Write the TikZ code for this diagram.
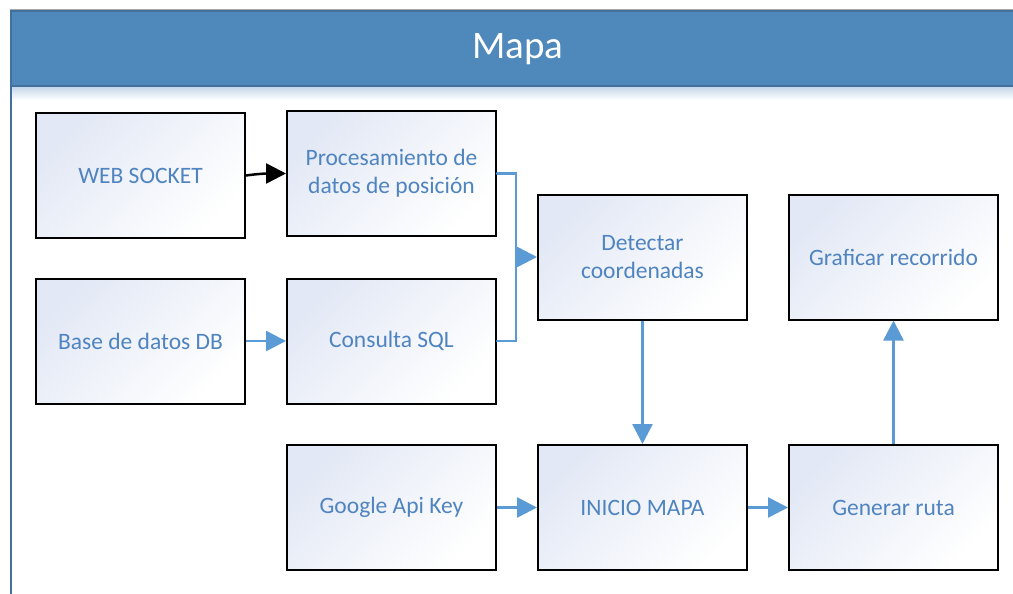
\documentclass[tikz,border=0pt]{standalone}
\usepackage{fontspec}
\setmainfont{Carlito}
\usepackage{tikz}
\usetikzlibrary{arrows.meta}

\definecolor{headblue}{RGB}{79,136,187}
\definecolor{headedge}{RGB}{65,113,156}
\definecolor{textblue}{RGB}{79,132,192}
\definecolor{lineblue}{RGB}{91,155,213}
\definecolor{boxtint}{RGB}{226,232,245}

\tikzset{
    stepbox/.style={draw=black, line width=2pt, top color=boxtint, bottom color=white,
        shading angle=45, minimum width=209pt, minimum height=125pt, align=center,
        text=textblue, font=\fontsize{23.5}{28}\selectfont},
    bluearrow/.style={draw=lineblue, line width=2.5pt, -{Triangle[length=20pt,width=20pt]}},
    blueline/.style={draw=lineblue, line width=2.5pt, line cap=round},
    blackarrow/.style={draw=black, line width=2.5pt, -{Triangle[length=20pt,width=20pt]}}
}

\begin{document}
\begin{tikzpicture}[x=1pt, y=-1pt]
        \useasboundingbox (0, 0) rectangle (1013, 594);

        \shade[top color=headblue!35, bottom color=white] (11, 86) rectangle (1013, 100);
        \draw[gray!70, line width=1pt] (10, 9.5) -- (1013, 9.5);
        \draw[fill=headblue, draw=headedge, line width=2pt] (11, 11) rectangle (1016, 86);
        \draw[headedge, line width=2pt] (11, 86) -- (11, 600);
        \node[text=white, font=\fontsize{39}{44}\selectfont] (title) at (518, 49) {Mapa};

        \node[stepbox] (websocket) at (140.5, 175.5) {WEB SOCKET};
        \node[stepbox] (proceso) at (391.5, 173.5) {Procesamiento de\\datos de posición};
        \node[stepbox] (basedatos) at (140.5, 341) {Base de datos DB};
        \node[stepbox] (consulta) at (391.5, 341) {Consulta SQL};
        \node[stepbox] (detectar) at (642.5, 257) {Detectar\\coordenadas};
        \node[stepbox] (graficar) at (893.5, 257) {Graficar recorrido};
        \node[stepbox] (apikey) at (391.5, 507.5) {Google Api Key};
        \node[stepbox] (inicio) at (642.5, 507.5) {INICIO MAPA};
        \node[stepbox] (ruta) at (893.5, 507.5) {Generar ruta};

        \coordinate (union) at (516, 257);
        \draw[blackarrow] (websocket.east) to[out=8, in=180] (proceso.west);
        \draw[bluearrow] (basedatos) -- (consulta);
        \draw[blueline] (proceso.east) -| (union) |- (consulta.east);
        \draw[bluearrow] (union) -- (detectar.west);
        \draw[bluearrow] (detectar) -- (inicio);
        \draw[bluearrow] (apikey) -- (inicio);
        \draw[bluearrow] (inicio) -- (ruta);
        \draw[bluearrow] (ruta) -- (graficar);
    \end{tikzpicture}
\end{document}
